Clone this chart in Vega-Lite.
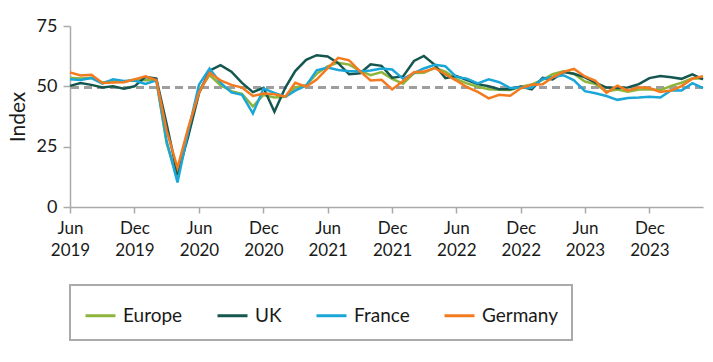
{
  "$schema": "https://vega.github.io/schema/vega-lite/v6.json",
  "width": 633,
  "height": 181,
  "autosize": "none",
  "padding": {"left": 70, "top": 26, "right": 10, "bottom": 155},
  "background": "white",
  "config": {
    "font": "Lato",
    "view": {"stroke": null},
    "axis": {"grid": false, "domainColor": "#aaaaaa", "domainWidth": 1.5, "tickColor": "#aaaaaa", "tickWidth": 1.5, "labelColor": "#1a1a1a", "titleColor": "#1a1a1a", "labelFont": "Lato", "titleFont": "Lato"},
    "legend": {"strokeWidth": 2}
  },
  "data": {"values": [
{"month":"2019-06-01","region":"Europe","index":53.6},{"month":"2019-06-01","region":"UK","index":50.2},{"month":"2019-06-01","region":"France","index":52.9},{"month":"2019-06-01","region":"Germany","index":55.8},
{"month":"2019-07-01","region":"Europe","index":53.2},{"month":"2019-07-01","region":"UK","index":51.4},{"month":"2019-07-01","region":"France","index":52.6},{"month":"2019-07-01","region":"Germany","index":54.5},
{"month":"2019-08-01","region":"Europe","index":53.5},{"month":"2019-08-01","region":"UK","index":50.6},{"month":"2019-08-01","region":"France","index":53.4},{"month":"2019-08-01","region":"Germany","index":54.8},
{"month":"2019-09-01","region":"Europe","index":51.6},{"month":"2019-09-01","region":"UK","index":49.5},{"month":"2019-09-01","region":"France","index":51.1},{"month":"2019-09-01","region":"Germany","index":51.4},
{"month":"2019-10-01","region":"Europe","index":52.2},{"month":"2019-10-01","region":"UK","index":50.0},{"month":"2019-10-01","region":"France","index":52.9},{"month":"2019-10-01","region":"Germany","index":51.6},
{"month":"2019-11-01","region":"Europe","index":51.9},{"month":"2019-11-01","region":"UK","index":49.0},{"month":"2019-11-01","region":"France","index":52.2},{"month":"2019-11-01","region":"Germany","index":51.7},
{"month":"2019-12-01","region":"Europe","index":52.8},{"month":"2019-12-01","region":"UK","index":50.0},{"month":"2019-12-01","region":"France","index":52.4},{"month":"2019-12-01","region":"Germany","index":52.9},
{"month":"2020-01-01","region":"Europe","index":52.5},{"month":"2020-01-01","region":"UK","index":53.9},{"month":"2020-01-01","region":"France","index":51.0},{"month":"2020-01-01","region":"Germany","index":54.2},
{"month":"2020-02-01","region":"Europe","index":52.6},{"month":"2020-02-01","region":"UK","index":53.2},{"month":"2020-02-01","region":"France","index":52.5},{"month":"2020-02-01","region":"Germany","index":52.5},
{"month":"2020-03-01","region":"Europe","index":26.4},{"month":"2020-03-01","region":"UK","index":34.5},{"month":"2020-03-01","region":"France","index":27.4},{"month":"2020-03-01","region":"Germany","index":31.7},
{"month":"2020-04-01","region":"Europe","index":12.0},{"month":"2020-04-01","region":"UK","index":13.4},{"month":"2020-04-01","region":"France","index":10.2},{"month":"2020-04-01","region":"Germany","index":16.2},
{"month":"2020-05-01","region":"Europe","index":30.5},{"month":"2020-05-01","region":"UK","index":29.0},{"month":"2020-05-01","region":"France","index":31.1},{"month":"2020-05-01","region":"Germany","index":32.6},
{"month":"2020-06-01","region":"Europe","index":48.3},{"month":"2020-06-01","region":"UK","index":47.1},{"month":"2020-06-01","region":"France","index":50.7},{"month":"2020-06-01","region":"Germany","index":47.3},
{"month":"2020-07-01","region":"Europe","index":54.7},{"month":"2020-07-01","region":"UK","index":56.5},{"month":"2020-07-01","region":"France","index":57.3},{"month":"2020-07-01","region":"Germany","index":55.6},
{"month":"2020-08-01","region":"Europe","index":50.5},{"month":"2020-08-01","region":"UK","index":58.8},{"month":"2020-08-01","region":"France","index":51.5},{"month":"2020-08-01","region":"Germany","index":52.5},
{"month":"2020-09-01","region":"Europe","index":48.0},{"month":"2020-09-01","region":"UK","index":56.1},{"month":"2020-09-01","region":"France","index":47.5},{"month":"2020-09-01","region":"Germany","index":50.6},
{"month":"2020-10-01","region":"Europe","index":46.9},{"month":"2020-10-01","region":"UK","index":51.4},{"month":"2020-10-01","region":"France","index":46.5},{"month":"2020-10-01","region":"Germany","index":49.5},
{"month":"2020-11-01","region":"Europe","index":41.7},{"month":"2020-11-01","region":"UK","index":47.6},{"month":"2020-11-01","region":"France","index":38.8},{"month":"2020-11-01","region":"Germany","index":46.0},
{"month":"2020-12-01","region":"Europe","index":46.4},{"month":"2020-12-01","region":"UK","index":49.4},{"month":"2020-12-01","region":"France","index":49.1},{"month":"2020-12-01","region":"Germany","index":47.0},
{"month":"2021-01-01","region":"Europe","index":45.4},{"month":"2021-01-01","region":"UK","index":39.5},{"month":"2021-01-01","region":"France","index":47.3},{"month":"2021-01-01","region":"Germany","index":46.7},
{"month":"2021-02-01","region":"Europe","index":45.7},{"month":"2021-02-01","region":"UK","index":49.5},{"month":"2021-02-01","region":"France","index":45.6},{"month":"2021-02-01","region":"Germany","index":45.7},
{"month":"2021-03-01","region":"Europe","index":49.6},{"month":"2021-03-01","region":"UK","index":56.3},{"month":"2021-03-01","region":"France","index":48.2},{"month":"2021-03-01","region":"Germany","index":51.5},
{"month":"2021-04-01","region":"Europe","index":50.5},{"month":"2021-04-01","region":"UK","index":61.0},{"month":"2021-04-01","region":"France","index":50.3},{"month":"2021-04-01","region":"Germany","index":49.9},
{"month":"2021-05-01","region":"Europe","index":55.2},{"month":"2021-05-01","region":"UK","index":62.9},{"month":"2021-05-01","region":"France","index":56.6},{"month":"2021-05-01","region":"Germany","index":52.8},
{"month":"2021-06-01","region":"Europe","index":58.3},{"month":"2021-06-01","region":"UK","index":62.4},{"month":"2021-06-01","region":"France","index":57.8},{"month":"2021-06-01","region":"Germany","index":57.5},
{"month":"2021-07-01","region":"Europe","index":59.8},{"month":"2021-07-01","region":"UK","index":59.6},{"month":"2021-07-01","region":"France","index":56.8},{"month":"2021-07-01","region":"Germany","index":61.8},
{"month":"2021-08-01","region":"Europe","index":59.0},{"month":"2021-08-01","region":"UK","index":55.0},{"month":"2021-08-01","region":"France","index":56.3},{"month":"2021-08-01","region":"Germany","index":60.8},
{"month":"2021-09-01","region":"Europe","index":56.4},{"month":"2021-09-01","region":"UK","index":55.4},{"month":"2021-09-01","region":"France","index":56.2},{"month":"2021-09-01","region":"Germany","index":56.2},
{"month":"2021-10-01","region":"Europe","index":54.6},{"month":"2021-10-01","region":"UK","index":59.1},{"month":"2021-10-01","region":"France","index":56.6},{"month":"2021-10-01","region":"Germany","index":52.4},
{"month":"2021-11-01","region":"Europe","index":55.9},{"month":"2021-11-01","region":"UK","index":58.5},{"month":"2021-11-01","region":"France","index":57.4},{"month":"2021-11-01","region":"Germany","index":52.7},
{"month":"2021-12-01","region":"Europe","index":53.1},{"month":"2021-12-01","region":"UK","index":53.6},{"month":"2021-12-01","region":"France","index":57.0},{"month":"2021-12-01","region":"Germany","index":48.7},
{"month":"2022-01-01","region":"Europe","index":51.1},{"month":"2022-01-01","region":"UK","index":54.1},{"month":"2022-01-01","region":"France","index":53.1},{"month":"2022-01-01","region":"Germany","index":52.2},
{"month":"2022-02-01","region":"Europe","index":55.5},{"month":"2022-02-01","region":"UK","index":60.5},{"month":"2022-02-01","region":"France","index":55.5},{"month":"2022-02-01","region":"Germany","index":55.8},
{"month":"2022-03-01","region":"Europe","index":55.6},{"month":"2022-03-01","region":"UK","index":62.6},{"month":"2022-03-01","region":"France","index":57.4},{"month":"2022-03-01","region":"Germany","index":56.1},
{"month":"2022-04-01","region":"Europe","index":57.7},{"month":"2022-04-01","region":"UK","index":58.9},{"month":"2022-04-01","region":"France","index":58.9},{"month":"2022-04-01","region":"Germany","index":57.6},
{"month":"2022-05-01","region":"Europe","index":56.1},{"month":"2022-05-01","region":"UK","index":53.4},{"month":"2022-05-01","region":"France","index":58.3},{"month":"2022-05-01","region":"Germany","index":55.0},
{"month":"2022-06-01","region":"Europe","index":53.0},{"month":"2022-06-01","region":"UK","index":54.3},{"month":"2022-06-01","region":"France","index":53.9},{"month":"2022-06-01","region":"Germany","index":52.4},
{"month":"2022-07-01","region":"Europe","index":51.2},{"month":"2022-07-01","region":"UK","index":52.6},{"month":"2022-07-01","region":"France","index":53.2},{"month":"2022-07-01","region":"Germany","index":49.7},
{"month":"2022-08-01","region":"Europe","index":49.8},{"month":"2022-08-01","region":"UK","index":50.9},{"month":"2022-08-01","region":"France","index":51.2},{"month":"2022-08-01","region":"Germany","index":47.7},
{"month":"2022-09-01","region":"Europe","index":48.8},{"month":"2022-09-01","region":"UK","index":50.0},{"month":"2022-09-01","region":"France","index":52.9},{"month":"2022-09-01","region":"Germany","index":45.0},
{"month":"2022-10-01","region":"Europe","index":48.6},{"month":"2022-10-01","region":"UK","index":48.8},{"month":"2022-10-01","region":"France","index":51.7},{"month":"2022-10-01","region":"Germany","index":46.5},
{"month":"2022-11-01","region":"Europe","index":48.5},{"month":"2022-11-01","region":"UK","index":48.8},{"month":"2022-11-01","region":"France","index":49.3},{"month":"2022-11-01","region":"Germany","index":46.1},
{"month":"2022-12-01","region":"Europe","index":49.8},{"month":"2022-12-01","region":"UK","index":49.9},{"month":"2022-12-01","region":"France","index":49.5},{"month":"2022-12-01","region":"Germany","index":49.2},
{"month":"2023-01-01","region":"Europe","index":50.8},{"month":"2023-01-01","region":"UK","index":48.7},{"month":"2023-01-01","region":"France","index":49.4},{"month":"2023-01-01","region":"Germany","index":50.7},
{"month":"2023-02-01","region":"Europe","index":52.7},{"month":"2023-02-01","region":"UK","index":53.5},{"month":"2023-02-01","region":"France","index":53.1},{"month":"2023-02-01","region":"Germany","index":50.9},
{"month":"2023-03-01","region":"Europe","index":55.0},{"month":"2023-03-01","region":"UK","index":52.9},{"month":"2023-03-01","region":"France","index":53.9},{"month":"2023-03-01","region":"Germany","index":53.7},
{"month":"2023-04-01","region":"Europe","index":56.2},{"month":"2023-04-01","region":"UK","index":55.9},{"month":"2023-04-01","region":"France","index":54.6},{"month":"2023-04-01","region":"Germany","index":56.0},
{"month":"2023-05-01","region":"Europe","index":55.1},{"month":"2023-05-01","region":"UK","index":55.2},{"month":"2023-05-01","region":"France","index":52.5},{"month":"2023-05-01","region":"Germany","index":57.2},
{"month":"2023-06-01","region":"Europe","index":52.0},{"month":"2023-06-01","region":"UK","index":53.7},{"month":"2023-06-01","region":"France","index":48.0},{"month":"2023-06-01","region":"Germany","index":54.1},
{"month":"2023-07-01","region":"Europe","index":50.9},{"month":"2023-07-01","region":"UK","index":51.5},{"month":"2023-07-01","region":"France","index":47.1},{"month":"2023-07-01","region":"Germany","index":52.3},
{"month":"2023-08-01","region":"Europe","index":47.9},{"month":"2023-08-01","region":"UK","index":49.5},{"month":"2023-08-01","region":"France","index":46.0},{"month":"2023-08-01","region":"Germany","index":47.3},
{"month":"2023-09-01","region":"Europe","index":48.7},{"month":"2023-09-01","region":"UK","index":49.3},{"month":"2023-09-01","region":"France","index":44.4},{"month":"2023-09-01","region":"Germany","index":50.3},
{"month":"2023-10-01","region":"Europe","index":47.8},{"month":"2023-10-01","region":"UK","index":49.5},{"month":"2023-10-01","region":"France","index":45.2},{"month":"2023-10-01","region":"Germany","index":48.2},
{"month":"2023-11-01","region":"Europe","index":48.7},{"month":"2023-11-01","region":"UK","index":50.9},{"month":"2023-11-01","region":"France","index":45.4},{"month":"2023-11-01","region":"Germany","index":49.6},
{"month":"2023-12-01","region":"Europe","index":48.8},{"month":"2023-12-01","region":"UK","index":53.4},{"month":"2023-12-01","region":"France","index":45.7},{"month":"2023-12-01","region":"Germany","index":49.3},
{"month":"2024-01-01","region":"Europe","index":48.4},{"month":"2024-01-01","region":"UK","index":54.3},{"month":"2024-01-01","region":"France","index":45.4},{"month":"2024-01-01","region":"Germany","index":47.7},
{"month":"2024-02-01","region":"Europe","index":50.2},{"month":"2024-02-01","region":"UK","index":53.8},{"month":"2024-02-01","region":"France","index":48.4},{"month":"2024-02-01","region":"Germany","index":48.3},
{"month":"2024-03-01","region":"Europe","index":51.5},{"month":"2024-03-01","region":"UK","index":53.1},{"month":"2024-03-01","region":"France","index":48.3},{"month":"2024-03-01","region":"Germany","index":50.1},
{"month":"2024-04-01","region":"Europe","index":53.3},{"month":"2024-04-01","region":"UK","index":55.0},{"month":"2024-04-01","region":"France","index":51.3},{"month":"2024-04-01","region":"Germany","index":53.2},
{"month":"2024-05-01","region":"Europe","index":53.2},{"month":"2024-05-01","region":"UK","index":52.9},{"month":"2024-05-01","region":"France","index":49.3},{"month":"2024-05-01","region":"Germany","index":54.2}
  ]},
  "layer": [
    {
      "mark": {"type": "rule", "color": "#9e9e9e", "strokeWidth": 2, "strokeDash": [8, 5]},
      "encoding": {"y": {"datum": 49.5, "type": "quantitative"}}
    },
    {
      "mark": {"type": "line", "strokeWidth": 2.5},
      "encoding": {
        "x": {
          "field": "month", "type": "temporal",
          "scale": {"type": "utc", "domain": [{"year": 2019, "month": 6, "date": 1, "utc": true}, {"year": 2024, "month": 5, "date": 1, "utc": true}]},
          "axis": {
            "title": null,
            "values": [
              {"year": 2019, "month": 6, "date": 1, "utc": true},
              {"year": 2019, "month": 12, "date": 1, "utc": true},
              {"year": 2020, "month": 6, "date": 1, "utc": true},
              {"year": 2020, "month": 12, "date": 1, "utc": true},
              {"year": 2021, "month": 6, "date": 1, "utc": true},
              {"year": 2021, "month": 12, "date": 1, "utc": true},
              {"year": 2022, "month": 6, "date": 1, "utc": true},
              {"year": 2022, "month": 12, "date": 1, "utc": true},
              {"year": 2023, "month": 6, "date": 1, "utc": true},
              {"year": 2023, "month": 12, "date": 1, "utc": true}
            ],
            "labelExpr": "[utcFormat(datum.value, '%b'), utcFormat(datum.value, '%Y')]",
            "labelFontSize": 17,
            "labelLineHeight": 22,
            "tickSize": 6,
            "labelPadding": 7,
            "labelAlign": "center",
            "labelFlush": false,
            "labelOverlap": false
          }
        },
        "y": {
          "field": "index", "type": "quantitative",
          "scale": {"domain": [0, 75], "nice": false},
          "axis": {"values": [0, 25, 50, 75], "title": "Index", "titleFontSize": 21, "titleFontWeight": "normal", "titlePadding": 8, "labelFontSize": 18, "tickSize": 7, "labelPadding": 6}
        },
        "color": {
          "field": "region", "type": "nominal",
          "scale": {"domain": ["Europe", "UK", "France", "Germany"], "range": ["#8db53c", "#15574f", "#1ba6d8", "#f47a20"]},
          "legend": {
            "title": null,
            "orient": "none",
            "legendX": 0,
            "legendY": 259,
            "direction": "horizontal",
            "strokeColor": "#aaaaaa",
            "padding": 14,
            "symbolType": "stroke",
            "symbolSize": 900,
            "symbolStrokeWidth": 3,
            "labelFontSize": 19,
            "labelColor": "#1a1a1a",
            "labelOffset": 6,
            "columnPadding": 28,
            "labelLimit": 200
          }
        }
      }
    }
  ]
}
